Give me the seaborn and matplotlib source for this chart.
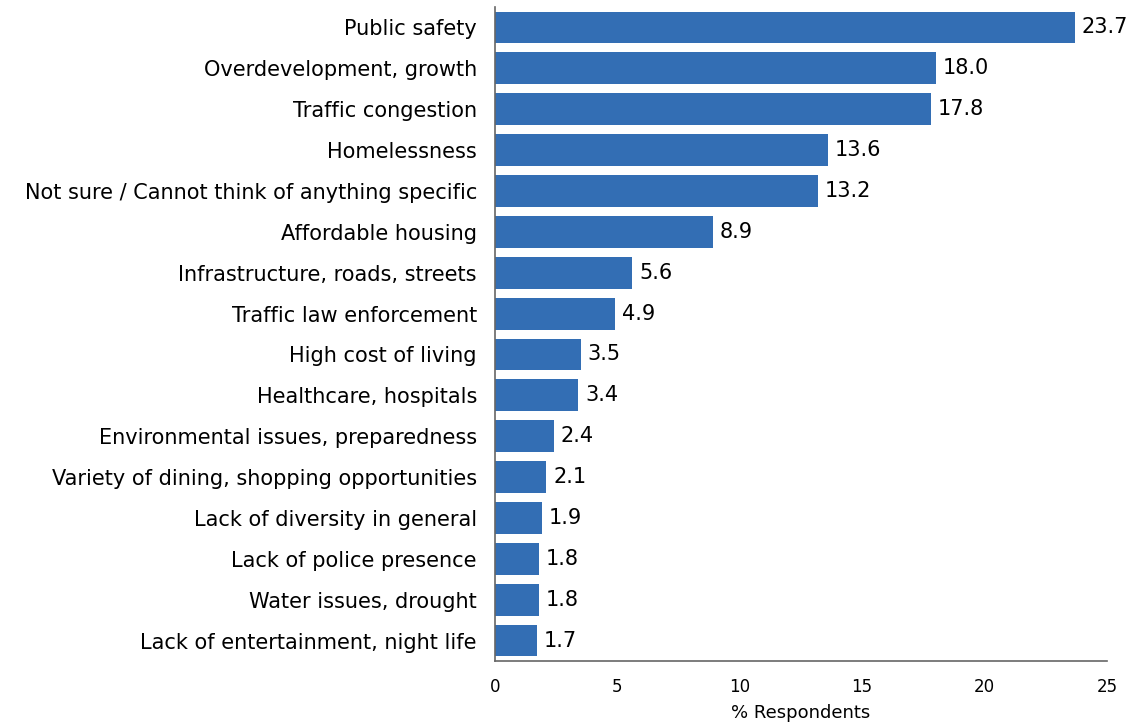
import matplotlib
matplotlib.use("Agg")
import matplotlib.pyplot as plt
import seaborn as sns
import pandas as pd

categories = [
    "Public safety",
    "Overdevelopment, growth",
    "Traffic congestion",
    "Homelessness",
    "Not sure / Cannot think of anything specific",
    "Affordable housing",
    "Infrastructure, roads, streets",
    "Traffic law enforcement",
    "High cost of living",
    "Healthcare, hospitals",
    "Environmental issues, preparedness",
    "Variety of dining, shopping opportunities",
    "Lack of diversity in general",
    "Lack of police presence",
    "Water issues, drought",
    "Lack of entertainment, night life",
]
values = [23.7, 18.0, 17.8, 13.6, 13.2, 8.9, 5.6, 4.9, 3.5, 3.4, 2.4, 2.1, 1.9, 1.8, 1.8, 1.7]
x_ticks = [0, 5, 10, 15, 20, 25]

df = pd.DataFrame({"issue": categories, "pct": values})

sns.set_theme(style="white")
plt.rcParams["font.family"] = ["DejaVu Sans"]

fig = plt.figure(figsize=(11.33, 7.25), dpi=100)
ax = fig.add_axes([0.4369, 0.0883, 0.977 - 0.4369, 0.9903 - 0.0883])

bar_color = "#336eb4"
sns.barplot(data=df, x="pct", y="issue", orient="h", color=bar_color,
            saturation=1, width=0.78, linewidth=0, ax=ax)

for patch, v in zip(ax.patches, values):
    y = patch.get_y() + patch.get_height() / 2
    ax.text(v + 0.28, y, f"{v:.1f}", va="center", ha="left",
            fontsize=15, color="black")

ax.set_xlim(0, 25)
ax.set_ylim(len(categories) - 0.5, -0.5)
ax.set_xticks(x_ticks)
ax.set_xticklabels([str(t) for t in x_ticks], fontsize=12, color="black")
ax.tick_params(axis="x", length=0, pad=12)
ax.tick_params(axis="y", length=0, pad=13, labelsize=15, labelcolor="black")
ax.set_xlabel("% Respondents", fontsize=13, color="black", labelpad=6)
ax.set_ylabel("")

for side in ["top", "right"]:
    ax.spines[side].set_visible(False)
for side in ["left", "bottom"]:
    ax.spines[side].set_color("#666666")
    ax.spines[side].set_linewidth(1.2)

fig.savefig("out.png", dpi=100)
